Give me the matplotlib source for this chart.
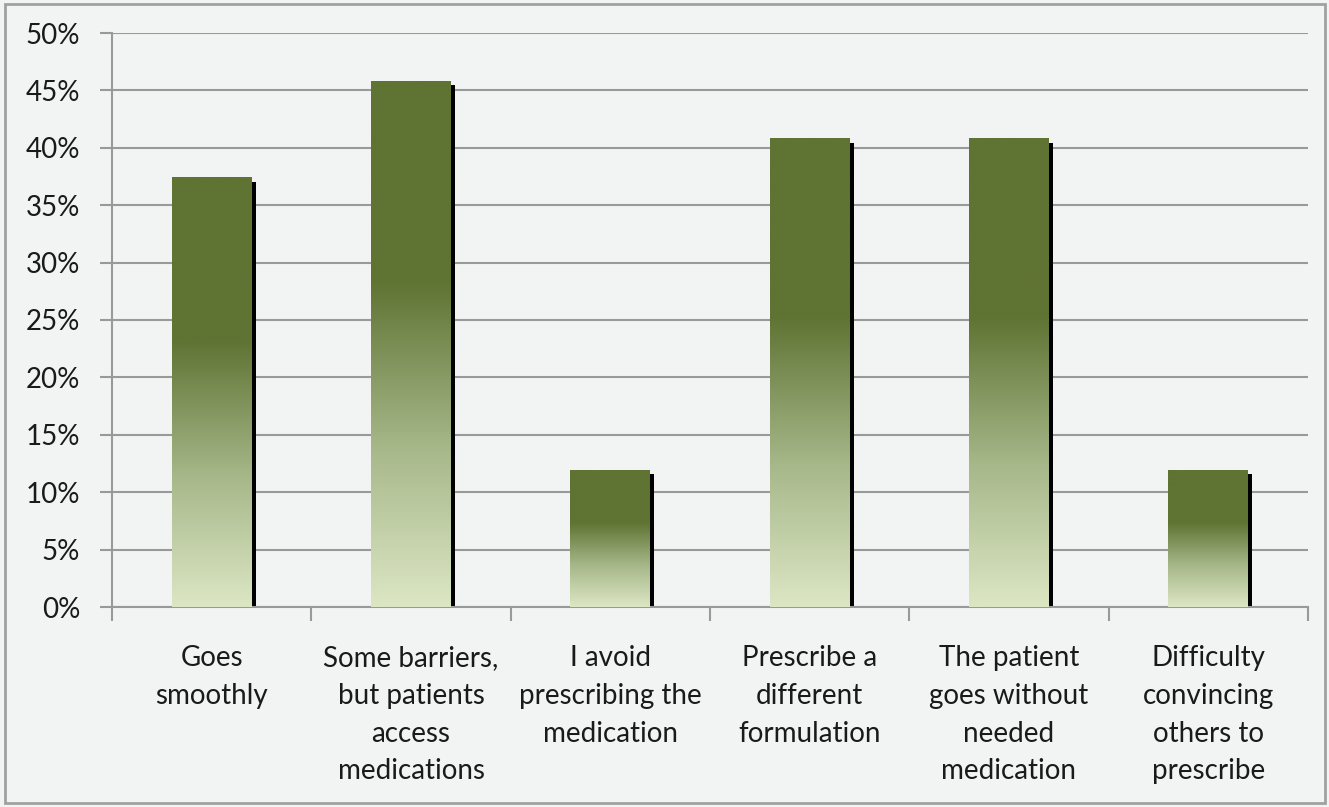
import matplotlib.pyplot as plt
from matplotlib.colors import LinearSegmentedColormap
from matplotlib.patches import Rectangle
import matplotlib.transforms as mtransforms
import numpy as np

categories = ['Goes\nsmoothly', 'Some barriers,\nbut patients\naccess\nmedications',
              'I avoid\nprescribing the\nmedication', 'Prescribe a\ndifferent\nformulation',
              'The patient\ngoes without\nneeded\nmedication', 'Difficulty\nconvincing\nothers to\nprescribe']
values = [37.4, 45.8, 11.9, 40.8, 40.8, 11.9]
yticks = [0, 5, 10, 15, 20, 25, 30, 35, 40, 45, 50]

plt.rcParams['font.family'] = ['Lato', 'DejaVu Sans']
bg = '#f2f4f3'
grid_color = '#999999'

fig = plt.figure(figsize=(13.29, 8.07), dpi=100, facecolor=bg)
ax = fig.add_axes([112 / 1329, 1 - 607 / 807, (1308 - 112) / 1329, (607 - 33) / 807])
ax.set_facecolor(bg)

# green gradient, light at the bottom, solid dark in the upper part
cmap = LinearSegmentedColormap.from_list('g', [(0, '#dce6c4'), (0.3, '#a7b88a'),
                                              (0.62, '#5f7333'), (1, '#5f7333')])
grad = np.linspace(0, 1, 256).reshape(-1, 1)

x = np.arange(len(categories))
width = 0.4
bars = ax.bar(x, values, width, color='none', zorder=3)

shadow_tr = mtransforms.offset_copy(ax.transData, fig=fig, x=4, y=-4, units='dots')
for b in bars:
    x0, h, w = b.get_x(), b.get_height(), b.get_width()
    ax.add_patch(Rectangle((x0, 0), w, h, facecolor='black', edgecolor='none',
                           transform=shadow_tr, zorder=2, clip_on=True))
    ax.imshow(grad, cmap=cmap, origin='lower', aspect='auto',
              extent=(x0, x0 + w, 0, h), zorder=3)

ax.set_xlim(-0.5, len(categories) - 0.5)
ax.set_ylim(0, 50)
ax.set_yticks(yticks)
ax.set_yticklabels([f'{v}%' for v in yticks], fontsize=20, color='#1a1a1a')
ax.tick_params(axis='y', length=9, width=1.5, color=grid_color, pad=14)
ax.yaxis.grid(True, color=grid_color, linewidth=1.5, zorder=0)
ax.set_axisbelow(True)

ax.set_xticks(np.arange(-0.5, len(categories), 1))
ax.set_xticklabels([])
ax.tick_params(axis='x', length=10, width=1.5, color=grid_color)
for i, c in enumerate(categories):
    ax.text(i, -3.35, c, ha='center', va='top', fontsize=20, color='#1a1a1a',
            linespacing=1.55, transform=ax.transData)

for s in ['top', 'right']:
    ax.spines[s].set_visible(False)
for s in ['left', 'bottom']:
    ax.spines[s].set_color(grid_color)
    ax.spines[s].set_linewidth(1.5)

fig.patches.append(Rectangle((5 / 1329, 4 / 807), 1320 / 1329, 799 / 807,
                             transform=fig.transFigure, fill=False,
                             edgecolor='#a0a0a0', linewidth=2))

fig.savefig('out.png', dpi=100, facecolor=bg)
